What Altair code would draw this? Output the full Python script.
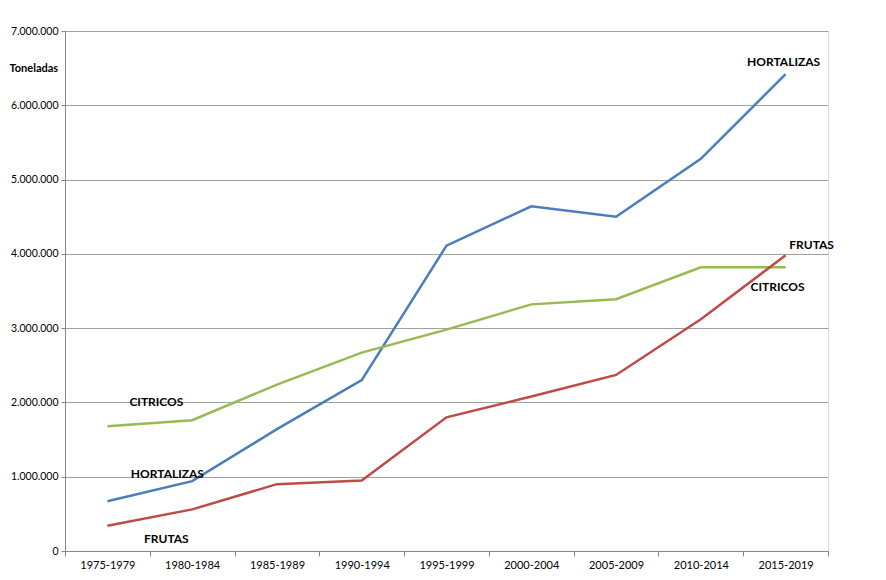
import altair as alt
import pandas as pd

periods = ["1975-1979", "1980-1984", "1985-1989", "1990-1994", "1995-1999",
           "2000-2004", "2005-2009", "2010-2014", "2015-2019"]
hortalizas = [670000, 940000, 1640000, 2300000, 4110000, 4640000, 4500000, 5280000, 6420000]
citricos = [1680000, 1760000, 2240000, 2670000, 2980000, 3320000, 3390000, 3820000, 3820000]
frutas = [340000, 560000, 900000, 950000, 1800000, 2080000, 2370000, 3120000, 3980000]

series_names = ["HORTALIZAS", "CITRICOS", "FRUTAS"]
series_colors = ["#4a7ebb", "#98b954", "#be4b48"]

# annotation labels (text, category, value)
label_text = ["CITRICOS", "HORTALIZAS", "FRUTAS", "HORTALIZAS", "FRUTAS", "CITRICOS"]
label_cat = ["1975-1979", "1975-1979", "1975-1979", "2015-2019", "2015-2019", "2015-2019"]
label_val = [2000000, 1030000, 160000, 6580000, 4120000, 3560000]
label_dx = [49, 60, 59, -2, 26, -8]

rows = []
for name, vals in zip(series_names, [hortalizas, citricos, frutas]):
    for p, v in zip(periods, vals):
        rows.append({"periodo": p, "valor": v, "serie": name})
df = pd.DataFrame(rows)

dot_fmt = "replace(format(datum.value, ','), /,/g, '.')"

x_enc = alt.X("periodo:N", sort=periods, title=None,
              scale=alt.Scale(paddingInner=0, paddingOuter=0),
              axis=alt.Axis(labelAngle=0, tickBand="extent", labelFont="Lato",
                            labelFontSize=11, labelColor="#000000", domainColor="#868686",
                            tickColor="#868686", tickSize=5, labelPadding=3, grid=False))
y_enc = alt.Y("valor:Q", title="Toneladas",
              scale=alt.Scale(domain=[0, 7000000], nice=False),
              axis=alt.Axis(values=list(range(0, 7000001, 1000000)), labelExpr=dot_fmt,
                            labelFont="Lato", labelFontSize=10.5, labelColor="#000000",
                            domainColor="#868686", tickColor="#868686", tickSize=4,
                            labelPadding=3, gridColor="#a0a0a0", gridWidth=1,
                            titleAngle=0, titleX=-56, titleY=37, titleAlign="left",
                            titleBaseline="middle", titleFont="Lato", titleFontSize=11,
                            titleFontWeight="bold", titleColor="#000000"))

lines = alt.Chart(df).mark_line(strokeWidth=2.5).encode(
    x=x_enc,
    y=y_enc,
    color=alt.Color("serie:N", scale=alt.Scale(domain=series_names, range=series_colors),
                    legend=None),
)

layers = [lines]
for t, c, v, d in zip(label_text, label_cat, label_val, label_dx):
    one = pd.DataFrame({"texto": [t], "periodo": [c], "valor": [v]})
    layers.append(
        alt.Chart(one).mark_text(font="Lato", fontSize=12, fontWeight="bold",
                                 color="#000000", baseline="middle", dx=d).encode(
            x=alt.X("periodo:N", sort=periods),
            y=alt.Y("valor:Q"),
            text="texto:N",
        )
    )

chart = alt.layer(*layers).properties(
    width=763, height=520,
    autosize=alt.AutoSizeParams(type="none"),
    padding={"left": 57, "top": 23, "right": 50, "bottom": 21},
).configure_view(stroke=None).configure(background="#ffffff")

chart.save("out.html", embed_options={"renderer": "svg", "actions": False})
